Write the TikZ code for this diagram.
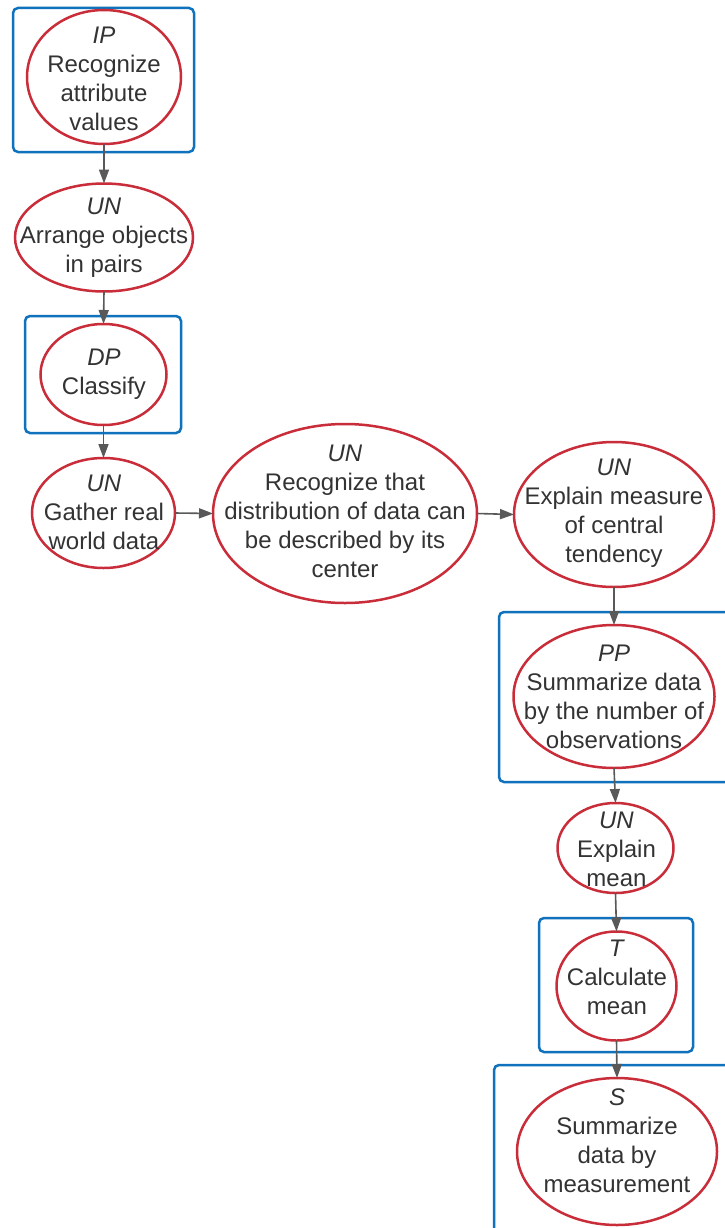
\documentclass[tikz,border=0pt]{standalone}
\usepackage{fontspec}
\setmainfont{Liberation Sans}
\usetikzlibrary{shapes.geometric,arrows.meta}
\definecolor{ered}{RGB}{201,45,57}
\definecolor{bblue}{RGB}{16,114,189}
\definecolor{txt}{RGB}{51,51,51}
\definecolor{arr}{RGB}{89,89,89}
\begin{document}
\begin{tikzpicture}[x=1pt,y=-1pt,
  oval/.style={ellipse,draw=ered,line width=2.5pt,inner sep=0pt,outer sep=0pt},
  frame/.style={rectangle,draw=bblue,line width=2.5pt,rounded corners=5pt,inner sep=0pt,outer sep=0pt},
  lbl/.style={text=txt,align=center,font=\fontsize{24}{29}\selectfont,inner sep=0pt},
  conn/.style={draw=arr,line width=1.6pt,-{Triangle[length=14pt,width=10pt]}}]
\useasboundingbox (0,0) rectangle (725,1228);
\clip (0,0) rectangle (725,1228);
\fill[white] (0,0) rectangle (725,1228);

% frames
\node[frame,minimum width=181pt,minimum height=144pt] (f1) at (103.5,80) {};
\node[frame,minimum width=156pt,minimum height=117pt] (f2) at (103,374.5) {};
\node[frame,minimum width=261pt,minimum height=170pt] (f3) at (629.5,697) {};
\node[frame,minimum width=154pt,minimum height=134pt] (f4) at (616,985) {};
\node[frame,minimum width=266pt,minimum height=195pt] (f5) at (627,1162.5) {};

% ellipses
\node[oval,minimum width=154pt,minimum height=134pt] (e1) at (104,77) {};
\node[oval,minimum width=178pt,minimum height=108pt] (e2) at (104,237.5) {};
\node[oval,minimum width=126pt,minimum height=101pt] (e3) at (103.5,374.5) {};
\node[oval,minimum width=143pt,minimum height=110pt] (e4) at (103.5,513) {};
\node[oval,minimum width=264pt,minimum height=179pt] (e5) at (345,513.5) {};
\node[oval,minimum width=200pt,minimum height=145pt] (e6) at (614,514.5) {};
\node[oval,minimum width=201pt,minimum height=143pt] (e7) at (614,696.5) {};
\node[oval,minimum width=116pt,minimum height=90pt] (e8) at (615.5,848) {};
\node[oval,minimum width=120pt,minimum height=109pt] (e9) at (616.5,986) {};
\node[oval,minimum width=200pt,minimum height=147pt] (e10) at (617,1151.5) {};

% labels
\node[lbl] (t1) at (104,78.5) {\textit{IP}\\Recognize\\attribute\\values};
\node[lbl] (t2) at (104,237.5) {\textit{UN}\\Arrange objects\\in pairs};
\node[lbl] (t3) at (104,374) {\textit{DP}\\Classify};
\node[lbl] (t4) at (104,512.5) {\textit{UN}\\Gather real\\world data};
\node[lbl] (t5) at (345,511.5) {\textit{UN}\\Recognize that\\distribution of data can\\be described by its\\center};
\node[lbl] (t6) at (614,513.5) {\textit{UN}\\Explain measure\\of central\\tendency};
\node[lbl] (t7) at (614,697) {\textit{PP}\\Summarize data\\by the number of\\observations};
\node[lbl] (t8) at (616.5,849) {\textit{UN}\\Explain\\mean};
\node[lbl] (t9) at (617,977.5) {\textit{T}\\Calculate\\mean};
\node[lbl] (t10) at (617,1140.5) {\textit{S}\\Summarize\\data by\\measurement};

% connectors
\draw[conn] (e1.south) -- (e2.north);
\draw[conn] (e2.south) -- (e3.north);
\draw[conn] (e3.south) -- (e4.north);
\draw[conn] (e4.east) -- (e5.west);
\draw[conn] (e5.east) -- (e6.west);
\draw[conn] (e6.south) -- (e7.north);
\draw[conn] (e7.south) -- (e8.north);
\draw[conn] (e8.south) -- (e9.north);
\draw[conn] (e9.south) -- (e10.north);
\end{tikzpicture}
\end{document}
